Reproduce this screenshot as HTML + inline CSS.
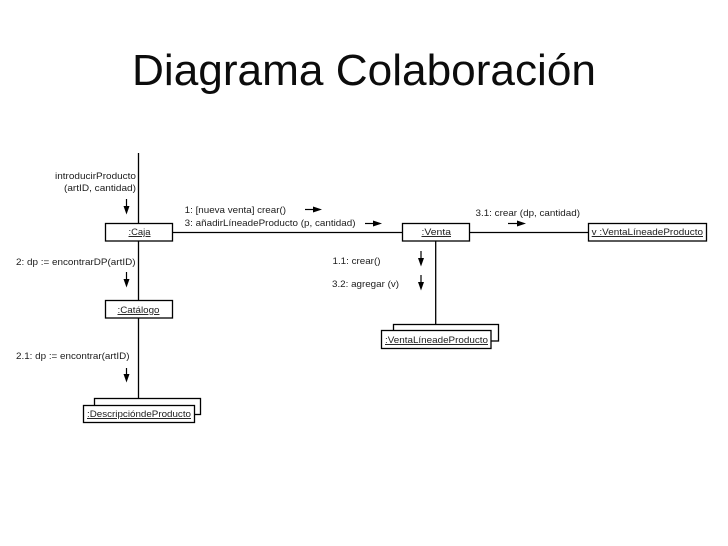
<!DOCTYPE html>
<html><head><meta charset="utf-8"><style>
html,body{margin:0;padding:0;background:#fff}
svg{display:block}
text{font-family:"Liberation Sans",Arial,sans-serif;fill:#1c1c1c}
.s{font-size:9.5px}
.b{fill:#fff;stroke:#000;stroke-width:1.3}
.l{stroke:#000;stroke-width:1.3;fill:none}
.t{stroke:#000;stroke-width:1.2}
</style></head><body>
<svg width="728" height="546" viewBox="0 0 728 546" xmlns="http://www.w3.org/2000/svg">
<text x="132" y="85" font-size="44" textLength="464" lengthAdjust="spacingAndGlyphs" style="fill:#0c0c0c">Diagrama Colaboración</text>

<!-- connectors -->
<path class="l" d="M138.5 153V398M172 232.5H588M435.7 241V324"/>

<!-- boxes -->
<rect class="b" x="105.5" y="223.5" width="67" height="17.5"/>
<rect class="b" x="105.5" y="300.5" width="67" height="17.5"/>
<rect class="b" x="402.5" y="223.5" width="67" height="17.5"/>
<rect class="b" x="588.5" y="223.5" width="118" height="17.5"/>
<rect class="b" x="94.5" y="398.5" width="106" height="16"/>
<rect class="b" x="83.5" y="405.5" width="111" height="17"/>
<rect class="b" x="393.5" y="324.5" width="105" height="16.5"/>
<rect class="b" x="381.5" y="330.5" width="109.5" height="18"/>

<!-- box labels -->
<g class="s">
<text x="128.5" y="235" textLength="22" lengthAdjust="spacingAndGlyphs" text-decoration="underline">:Caja</text>
<text x="117.5" y="313" textLength="42" lengthAdjust="spacingAndGlyphs" text-decoration="underline">:Catálogo</text>
<text x="87" y="417" textLength="104" lengthAdjust="spacingAndGlyphs" text-decoration="underline">:DescripcióndeProducto</text>
<text x="421.5" y="235" textLength="29.5" lengthAdjust="spacingAndGlyphs" text-decoration="underline">:Venta</text>
<text x="591.7" y="235" textLength="111.3" lengthAdjust="spacingAndGlyphs" text-decoration="underline">v :VentaLíneadeProducto</text>
<text x="385" y="343" textLength="103" lengthAdjust="spacingAndGlyphs" text-decoration="underline">:VentaLíneadeProducto</text>

<!-- messages -->
<text x="55" y="179" textLength="81" lengthAdjust="spacingAndGlyphs">introducirProducto</text>
<text x="64" y="191" textLength="72" lengthAdjust="spacingAndGlyphs">(artID, cantidad)</text>
<text x="16" y="265" textLength="119.5" lengthAdjust="spacingAndGlyphs">2: dp := encontrarDP(artID)</text>
<text x="16" y="359" textLength="113.5" lengthAdjust="spacingAndGlyphs">2.1: dp := encontrar(artID)</text>
<text x="184.7" y="213" textLength="101.3" lengthAdjust="spacingAndGlyphs">1: [nueva venta] crear()</text>
<text x="184.7" y="226" textLength="170.8" lengthAdjust="spacingAndGlyphs">3: añadirLíneadeProducto (p, cantidad)</text>
<text x="332.5" y="264" textLength="48" lengthAdjust="spacingAndGlyphs">1.1: crear()</text>
<text x="332" y="287" textLength="67" lengthAdjust="spacingAndGlyphs">3.2: agregar (v)</text>
<text x="475.5" y="216" textLength="104.5" lengthAdjust="spacingAndGlyphs">3.1: crear (dp, cantidad)</text>
</g>

<!-- down arrows -->
<g fill="#000">
<path class="t" d="M126.5 199V208"/><path d="M123.5 206H129.5L126.5 214.5Z"/>
<path class="t" d="M126.5 272V281"/><path d="M123.5 279H129.5L126.5 287.5Z"/>
<path class="t" d="M126.5 368V376"/><path d="M123.5 374H129.5L126.5 382.5Z"/>
<path class="t" d="M421 251V260"/><path d="M418 258H424L421 266.5Z"/>
<path class="t" d="M421 275V284"/><path d="M418 282H424L421 290.5Z"/>
<!-- right arrows -->
<path class="t" d="M305 209.5H316"/><path d="M313 206.5L322 209.5L313 212.5Z"/>
<path class="t" d="M365 223.5H376"/><path d="M373 220.5L382 223.5L373 226.5Z"/>
<path class="t" d="M508 223.5H519"/><path d="M517 220.5L526 223.5L517 226.5Z"/>
</g>
</svg>
</body></html>
